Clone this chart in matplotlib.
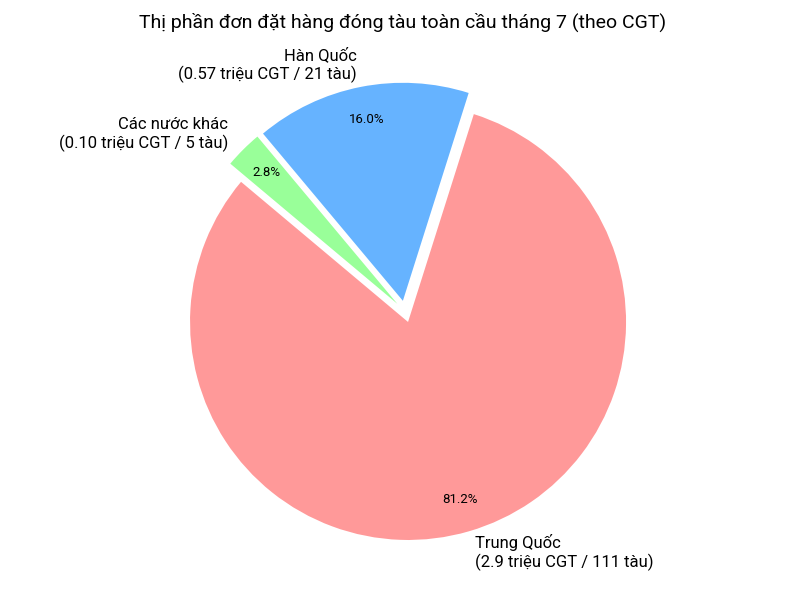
import matplotlib
matplotlib.use("Agg")
import matplotlib.pyplot as plt

plt.rcParams['font.family'] = ['Roboto', 'DejaVu Sans']

categories = ['Trung Quốc', 'Hàn Quốc', 'Các nước khác']
cgt_values = [2.9, 0.57, 0.10]
ship_counts = [111, 21, 5]
cgt_labels = ['2.9', '0.57', '0.10']
colors = ['#ff9999', '#66b3ff', '#99ff99']
explode = [0.05, 0.05, 0.05]

labels = [f"{c}\n({v} triệu CGT / {n} tàu)" for c, v, n in zip(categories, cgt_labels, ship_counts)]

W, H = 800, 600
R = 218.0              # pie radius in pixels
cx, cy = 405.0, 311.5  # pie centre in pixels from top-left

fig = plt.figure(figsize=(8, 6), dpi=100)
ax = fig.add_axes([0, 0, 1, 1])
wedges, texts, autotexts = ax.pie(cgt_values, labels=labels, colors=colors, explode=explode,
                                  autopct='%1.1f%%', startangle=140, pctdistance=0.85,
                                  textprops={'fontsize': 12})
for t in autotexts:
    t.set_fontsize(9.5)
ax.set_aspect('auto')
ax.set_xlim(-cx / R, (W - cx) / R)
ax.set_ylim(-(H - cy) / R, cy / R)
ax.axis('off')
fig.text(0.503, 1 - 22 / H, 'Thị phần đơn đặt hàng đóng tàu toàn cầu tháng 7 (theo CGT)',
         fontsize=14, ha='center', va='center')
fig.savefig('out.png')
